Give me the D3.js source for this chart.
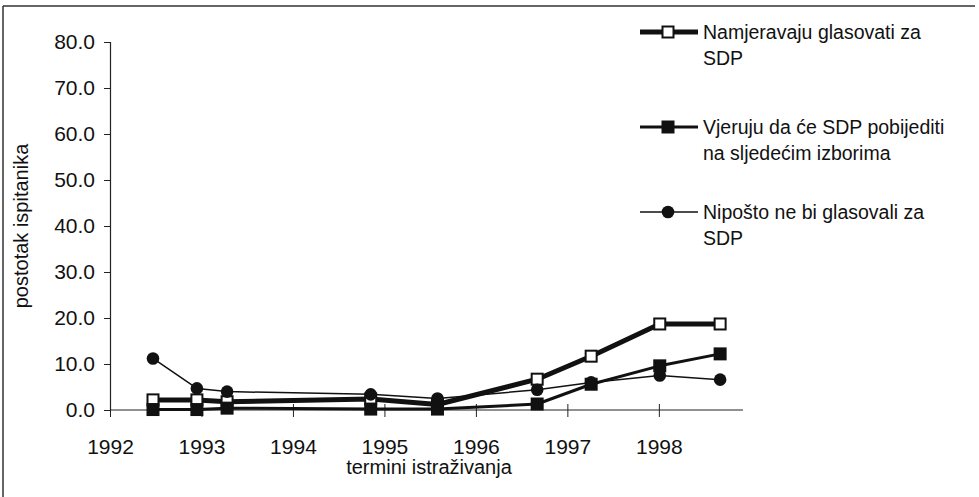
<!DOCTYPE html>
<html>
<head>
<meta charset="utf-8">
<script src="https://cdn.jsdelivr.net/npm/d3@7"></script>
<style>
  body { margin: 0; background: #fff; }
  text { font-family: "Liberation Sans", Arial, sans-serif; fill: #111; }
</style>
</head>
<body>
<div id="chart"></div>
<script>
// survey dates (decimal years) and percentages per series
var dates = [1992.47, 1992.95, 1993.28, 1994.85, 1995.58, 1996.67, 1997.26, 1998.01, 1998.67];
var namjeravaju = [2.2, 2.2, 1.8, 2.4, 1.2, 6.7, 11.7, 18.7, 18.7];
var vjeruju = [0.1, 0.1, 0.4, 0.2, 0.2, 1.3, 5.6, 9.6, 12.2];
var niposto = [11.2, 4.7, 4.0, 3.4, 2.5, 4.4, 6.0, 7.5, 6.6];

var yearTicks = [1992, 1993, 1994, 1995, 1996, 1997, 1998];
var yTicks = [0, 10, 20, 30, 40, 50, 60, 70, 80];

var legendLabels = [
    ["Namjeravaju glasovati za", "SDP"],
    ["Vjeruju da će SDP pobijediti", "na sljedećim izborima"],
    ["Nipošto ne bi glasovali za", "SDP"]
];

var width = 979, height = 497;

var svg = d3.select("#chart").append("svg")
    .attr("width", width)
    .attr("height", height);

// frame of the scanned figure
svg.append("line").attr("x1", 3).attr("x2", 975).attr("y1", 6).attr("y2", 6)
    .attr("stroke", "#333").attr("stroke-width", 1.5);
svg.append("line").attr("x1", 3).attr("x2", 3).attr("y1", 6).attr("y2", 497)
    .attr("stroke", "#333").attr("stroke-width", 1.5);

var x = d3.scaleLinear().domain([1992, 1998.92]).range([110, 743]);
var y = d3.scaleLinear().domain([0, 80]).range([410, 42]);

// Y axis
var yAxis = svg.append("g")
    .attr("transform", "translate(110,0)")
    .call(d3.axisLeft(y).tickValues(yTicks).tickSize(6).tickPadding(9)
        .tickFormat(d3.format(".1f")));
yAxis.selectAll("text").style("font-size", "21px");
yAxis.select(".domain").attr("stroke", "#222").attr("stroke-width", 1.2);
yAxis.selectAll(".tick line").attr("stroke", "#222");

// X axis, ticks cross the line
var xAxis = svg.append("g")
    .attr("transform", "translate(0,410)")
    .call(d3.axisBottom(x).tickValues(yearTicks).tickSize(7).tickPadding(22)
        .tickFormat(d3.format("d")));
xAxis.select(".domain").attr("d", "M110,0H743").attr("stroke", "#222").attr("stroke-width", 1.2);
xAxis.selectAll(".tick line").attr("y1", -6).attr("stroke", "#222");
xAxis.selectAll("text").style("font-size", "21px");

// axis titles
svg.append("text")
    .attr("transform", "rotate(-90)")
    .attr("x", -226)
    .attr("y", 21)
    .attr("dy", "0.35em")
    .style("text-anchor", "middle")
    .style("font-size", "20px")
    .text("postotak ispitanika");

svg.append("text")
    .attr("x", 429)
    .attr("y", 474)
    .style("text-anchor", "middle")
    .style("font-size", "20px")
    .text("termini istraživanja");

var series = [
    {values: namjeravaju, width: 5, marker: "open"},
    {values: vjeruju, width: 3, marker: "filled"},
    {values: niposto, width: 1.5, marker: "circle"}
];

var line = d3.line()
    .x(function (d) { return x(d.t); })
    .y(function (d) { return y(d.v); });

function drawMarker(g, kind, cx, cy) {
    if (kind === "circle") {
        g.append("circle").attr("cx", cx).attr("cy", cy).attr("r", 6.3).attr("fill", "#111");
    } else {
        g.append("rect")
            .attr("x", cx - 5.5).attr("y", cy - 5.5)
            .attr("width", 11).attr("height", 11)
            .attr("fill", kind === "open" ? "#fff" : "#111")
            .attr("stroke", "#111").attr("stroke-width", 2);
    }
}

series.forEach(function (s) {
    var pts = dates.map(function (t, i) { return {t: t, v: s.values[i]}; });
    var g = svg.append("g");
    g.append("path")
        .datum(pts)
        .attr("d", line)
        .attr("fill", "none")
        .attr("stroke", "#111")
        .attr("stroke-width", s.width)
        .attr("stroke-linejoin", "round");
    pts.forEach(function (p) {
        drawMarker(g, s.marker, x(p.t), y(p.v));
    });
});

// legend
var legendY = [32, 127, 212];
series.forEach(function (s, i) {
    var g = svg.append("g");
    g.append("line")
        .attr("x1", 640).attr("x2", 698)
        .attr("y1", legendY[i]).attr("y2", legendY[i])
        .attr("stroke", "#111").attr("stroke-width", s.width);
    drawMarker(g, s.marker, 668, legendY[i]);
    legendLabels[i].forEach(function (txt, j) {
        g.append("text")
            .attr("x", 703)
            .attr("y", legendY[i] + j * 26)
            .attr("dy", "0.35em")
            .style("font-size", "19.5px")
            .text(txt);
    });
});
</script>
</body>
</html>
